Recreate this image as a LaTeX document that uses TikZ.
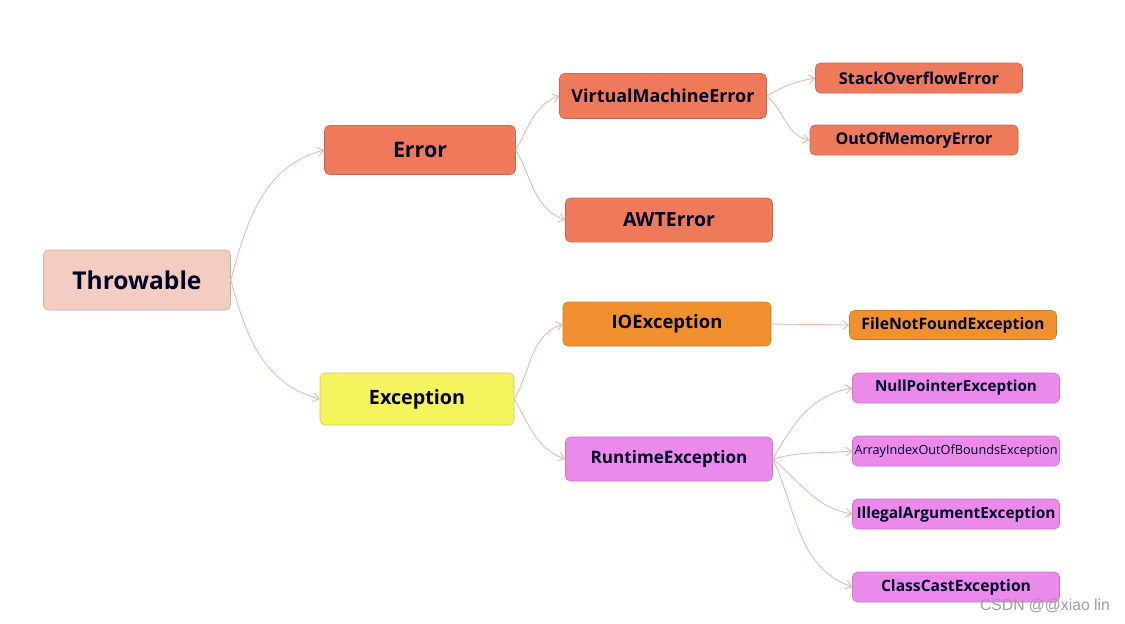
\documentclass[tikz,border=0pt]{standalone}
\usepackage{fontspec}
\setmainfont{Open Sans}
\newfontfamily\wmfont{Liberation Sans}
\usetikzlibrary{arrows.meta}
\definecolor{cThrow}{HTML}{F4CCC2}
\definecolor{cErr}{HTML}{EF7A5B}
\definecolor{cExc}{HTML}{F5F35E}
\definecolor{cIO}{HTML}{F0902E}
\definecolor{cRun}{HTML}{EC8AEC}
\definecolor{cLink}{HTML}{E8B4A8}
\newcommand{\fitw}[2]{\resizebox{#1pt}{!}{#2}}
\tikzset{
  box/.style={draw=#1!85!black, line width=0.6pt, fill=#1, rounded corners=5pt, inner sep=0pt, align=center, text=black!85!blue, font=\bfseries},
  link/.style={draw=cLink, line width=0.8pt, -{Straight Barb[length=6pt,width=9pt]}},
}
\begin{document}
\begin{tikzpicture}[x=1pt,y=-1pt]
\useasboundingbox[fill=white] (0,0) rectangle (1125,624);
% nodes
\node[box=cThrow, minimum width=187pt, minimum height=60pt] (throw) at (137,280) {\fitw{129}{Throwable}};
\node[box=cErr, minimum width=191pt, minimum height=49pt] (err) at (420,150) {\fitw{54}{Error}};
\node[box=cExc, minimum width=194pt, minimum height=52pt] (exc) at (417,399) {\fitw{96}{Exception}};
\node[box=cErr, minimum width=207pt, minimum height=45pt] (vme) at (663,96) {\fitw{183}{VirtualMachineError}};
\node[box=cErr, minimum width=207pt, minimum height=44pt] (awt) at (669,220) {\fitw{92}{AWTError}};
\node[box=cErr, minimum width=207pt, minimum height=30pt] (soe) at (919,78) {\fitw{160}{StackOverflowError}};
\node[box=cErr, minimum width=208pt, minimum height=30pt] (oom) at (914,140) {\fitw{157}{OutOfMemoryError}};
\node[box=cIO, minimum width=208pt, minimum height=44pt] (io) at (667,324) {\fitw{111}{IOException}};
\node[box=cRun, minimum width=207pt, minimum height=44pt] (run) at (669,459) {\fitw{157}{RuntimeException}};
\node[box=cIO, minimum width=207pt, minimum height=29pt] (fnf) at (953,325) {\fitw{183}{FileNotFoundException}};
\node[box=cRun, minimum width=207pt, minimum height=30pt] (npe) at (956,388) {\fitw{162}{NullPointerException}};
\node[box=cRun, minimum width=207pt, minimum height=30pt] (aio) at (956,451) {\fitw{203}{\mdseries ArrayIndexOutOfBoundsException}};
\node[box=cRun, minimum width=207pt, minimum height=30pt] (iae) at (956,514) {\fitw{199}{IllegalArgumentException}};
\node[box=cRun, minimum width=207pt, minimum height=30pt] (cce) at (956,587) {\fitw{150}{ClassCastException}};
% connectors
\draw[link] (throw.east) to[out=75,in=195] (err.west);
\draw[link] (throw.east) to[out=-75,in=165] (exc.west);
\draw[link] (err.east) to[out=60,in=200] (vme.west);
\draw[link] (err.east) to[out=-60,in=160] (awt.west);
\draw[link] (vme.east) to[out=30,in=190] (soe.west);
\draw[link] (vme.east) to[out=-40,in=170] (oom.west);
\draw[link] (exc.east) to[out=60,in=200] (io.west);
\draw[link] (exc.east) to[out=-60,in=160] (run.west);
\draw[link] (io.east) -- (fnf.west);
\draw[link] (run.east) to[out=60,in=190] (npe.west);
\draw[link] (run.east) to[out=15,in=185] (aio.west);
\draw[link] (run.east) to[out=-40,in=170] (iae.west);
\draw[link] (run.east) to[out=-65,in=160] (cce.west);
% watermark
\node[anchor=center, text=black!38, inner sep=0pt] (wm) at (1045,606) {\wmfont\fitw{130}{CSDN @@xiao lin}};
\end{tikzpicture}
\end{document}
